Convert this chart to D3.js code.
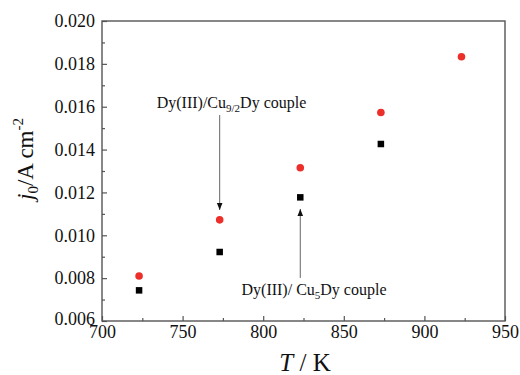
<!DOCTYPE html>
<html>
<head>
<meta charset="utf-8">
<script src="https://cdn.jsdelivr.net/npm/d3@7"></script>
<style>
  html, body { margin: 0; padding: 0; background: #fff; }
  svg { display: block; }
  svg text { font-family: "Liberation Serif", "Times New Roman", serif; }
</style>
</head>
<body>
<svg id="chart" width="520" height="375"></svg>
<script>
// Exchange current density vs temperature for the two Dy(III)/Cu–Dy couples
const temperatures = [723, 773, 823, 873, 923];
const cu92Values = [0.0081, 0.01072, 0.01315, 0.01573, 0.01833];   // Dy(III)/Cu9/2Dy (red circles)
const cu5Values = [0.00743, 0.00922, 0.01177, 0.01426];           // Dy(III)/Cu5Dy (black squares)
const xTicks = [700, 750, 800, 850, 900, 950];
const xMinorTicks = [725, 775, 825, 875, 925];
const yTicks = [0.006, 0.008, 0.010, 0.012, 0.014, 0.016, 0.018, 0.020];
const yMinorTicks = [0.007, 0.009, 0.011, 0.013, 0.015, 0.017, 0.019];

const svg = d3.select("#chart");
const plotLeft = 102, plotRight = 505, plotTop = 21, plotBottom = 321;
const axisColor = "#555";

const x = d3.scaleLinear().domain([700, 950]).range([plotLeft, plotRight]);
const y = d3.scaleLinear().domain([0.006, 0.020]).range([plotBottom, plotTop]);

// Axes with inward ticks
const xAxis = svg.append("g").attr("transform", `translate(0,${plotBottom})`)
  .call(d3.axisBottom(x).tickValues(xTicks).tickFormat(d3.format("d")).tickSize(-5).tickPadding(4));
const xMinor = svg.append("g").attr("transform", `translate(0,${plotBottom})`)
  .call(d3.axisBottom(x).tickValues(xMinorTicks).tickFormat("").tickSize(-3));
const yAxis = svg.append("g").attr("transform", `translate(${plotLeft},0)`)
  .call(d3.axisLeft(y).tickValues(yTicks).tickFormat(d3.format(".3f")).tickSize(-5).tickPadding(7));
const yMinor = svg.append("g").attr("transform", `translate(${plotLeft},0)`)
  .call(d3.axisLeft(y).tickValues(yMinorTicks).tickFormat("").tickSize(-3));

[xAxis, xMinor, yAxis, yMinor].forEach(g => {
  g.attr("font-family", "Liberation Serif, serif").attr("font-size", 18);
  g.select(".domain").remove();
  g.selectAll(".tick line").attr("stroke", axisColor).attr("stroke-width", 1.2);
  g.selectAll(".tick text").attr("fill", "#111");
});
// the lowest y label sits a touch low, just clear of the 700 label
yAxis.selectAll(".tick text").filter(d => d === 0.006).attr("dy", "0.2em");

// Frame
svg.append("rect")
  .attr("x", plotLeft).attr("y", plotTop)
  .attr("width", plotRight - plotLeft).attr("height", plotBottom - plotTop)
  .attr("fill", "none").attr("stroke", axisColor).attr("stroke-width", 1.4);

// Axis titles
svg.append("text")
  .attr("x", 305).attr("y", 371)
  .attr("text-anchor", "middle").attr("font-size", 25).attr("fill", "#111")
  .html('<tspan font-style="italic">T</tspan> / K');

const yTitle = svg.append("text")
  .attr("transform", "translate(33,159) rotate(-90)")
  .attr("text-anchor", "middle").attr("font-size", 23).attr("fill", "#111");
yTitle.append("tspan").attr("font-style", "italic").text("j");
yTitle.append("tspan").attr("font-size", 15).attr("dy", 5).text("0");
yTitle.append("tspan").attr("dy", -5).text("/A cm");
yTitle.append("tspan").attr("font-size", 15).attr("dy", -10).text("-2");

// Arrow markers
const defs = svg.append("defs");
defs.append("marker").attr("id", "head")
  .attr("viewBox", "0 0 10 10").attr("refX", 10).attr("refY", 5)
  .attr("markerWidth", 7).attr("markerHeight", 7).attr("markerUnits", "userSpaceOnUse")
  .attr("orient", "auto")
  .append("path").attr("d", "M0,1 L10,5 L0,9 Z").attr("fill", "#111");

// Annotation arrows
const arrows = [
  { t: 773, from: 0.01561, to: 0.01118 },
  { t: 823, from: 0.00801, to: 0.01123 }
];
svg.selectAll("line.arrow").data(arrows).join("line")
  .attr("class", "arrow")
  .attr("x1", d => x(d.t)).attr("x2", d => x(d.t))
  .attr("y1", d => y(d.from)).attr("y2", d => y(d.to))
  .attr("stroke", "#666").attr("stroke-width", 1)
  .attr("marker-end", "url(#head)");

// Annotation labels
const lab1 = svg.append("text")
  .attr("x", 231.5).attr("y", 108)
  .attr("text-anchor", "middle").attr("font-size", 16).attr("fill", "#111");
lab1.append("tspan").text("Dy(III)/Cu");
lab1.append("tspan").attr("font-size", 11).attr("dy", 4).text("9/2");
lab1.append("tspan").attr("dy", -4).text("Dy couple");

const lab2 = svg.append("text")
  .attr("x", 241.5).attr("y", 295)
  .attr("font-size", 16).attr("fill", "#111");
lab2.append("tspan").text("Dy(III)/ Cu");
lab2.append("tspan").attr("font-size", 11).attr("dy", 4).text("5");
lab2.append("tspan").attr("dy", -4).text("Dy couple");

// Data points
svg.selectAll("circle.cu92").data(cu92Values).join("circle")
  .attr("class", "cu92")
  .attr("cx", (d, i) => x(temperatures[i])).attr("cy", d => y(d))
  .attr("r", 3.8).attr("fill", "#ec2f2a");

const sq = 6.5;
svg.selectAll("rect.cu5").data(cu5Values).join("rect")
  .attr("class", "cu5")
  .attr("x", (d, i) => x(temperatures[i]) - sq / 2).attr("y", d => y(d) - sq / 2)
  .attr("width", sq).attr("height", sq).attr("fill", "#000");
</script>
</body>
</html>
